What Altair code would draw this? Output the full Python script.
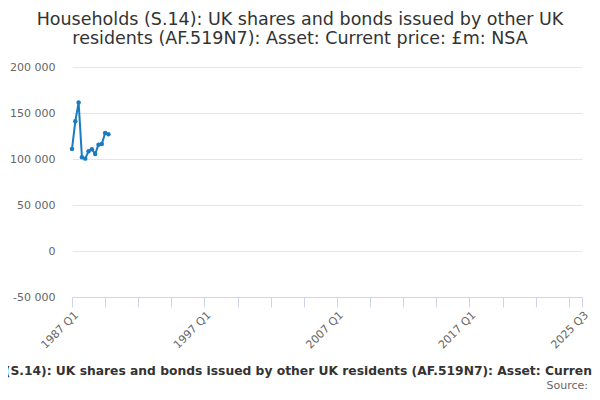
import altair as alt
import pandas as pd

# quarterly values, £m, 1987 Q1 - 1989 Q4
QUARTERS = [
    "1987 Q1", "1987 Q2", "1987 Q3", "1987 Q4",
    "1988 Q1", "1988 Q2", "1988 Q3", "1988 Q4",
    "1989 Q1", "1989 Q2", "1989 Q3", "1989 Q4",
]
VALUES = [
    111000, 141000, 161500, 101800,
    100400, 108500, 110500, 105500,
    115600, 116200, 128200, 126800,
]

# full category axis 1987 Q1 .. 2025 Q3
AXIS_QUARTERS = [f"{y} Q{q}" for y in range(1987, 2026) for q in range(1, 5)][:155]
TICK_QUARTERS = AXIS_QUARTERS[::10] + [AXIS_QUARTERS[-1]]
LABEL_QUARTERS = ["1987 Q1", "1997 Q1", "2007 Q1", "2017 Q1", "2025 Q3"]
Y_TICKS = [-50000, 0, 50000, 100000, 150000, 200000]

TITLE = [
    "Households (S.14): UK shares and bonds issued by other UK",
    "residents (AF.519N7): Asset: Current price: £m: NSA",
]
AXIS_TITLE = ("Households (S.14): UK shares and bonds issued by other UK residents "
              "(AF.519N7): Asset: Current price: £m: NSA")
SOURCE = ["Source:"]

df = pd.DataFrame({"quarter": QUARTERS, "value": VALUES})
src = pd.DataFrame({"label": SOURCE})

FONT = "DejaVu Sans"
label_set = "[" + ",".join(f"'{q}'" for q in LABEL_QUARTERS) + "]"

x_enc = alt.X(
    "quarter:O",
    sort=AXIS_QUARTERS,
    scale=alt.Scale(type="point", domain=AXIS_QUARTERS, padding=0),
    axis=alt.Axis(
        values=TICK_QUARTERS,
        labelExpr=f"indexof({label_set}, datum.value) >= 0 ? datum.value : ''",
        labelAngle=-45,
        labelOverlap=False,
        labelColor="#666666",
        labelFontSize=11,
        labelFont=FONT,
        domainColor="#ccd6eb",
        tickColor="#ccd6eb",
        tickSize=10,
        labelPadding=2,
        grid=False,
        title=AXIS_TITLE,
        titleFont=FONT,
        titleFontSize=12.3,
        titleFontWeight="bold",
        titleColor="#333333",
        titlePadding=14,
        titleX=240,
    ),
)

y_enc = alt.Y(
    "value:Q",
    scale=alt.Scale(domain=[-50000, 200000], nice=False, zero=False),
    axis=alt.Axis(
        values=Y_TICKS,
        labelExpr="(datum.value < 0 ? '-' : '') + replace(format(abs(datum.value), ','), ',', ' ')",
        domain=False,
        ticks=False,
        labelPadding=17,
        labelColor="#666666",
        labelFontSize=11,
        labelFont=FONT,
        gridColor="#e6e6e6",
        title=None,
    ),
)

line = alt.Chart(df).mark_line(
    color="#1b7bc2", strokeWidth=2,
    point=alt.OverlayMarkDef(color="#1b7bc2", size=20, filled=True),
).encode(x=x_enc, y=y_enc)

source = alt.Chart(src).mark_text(
    align="right", baseline="alphabetic",
    font=FONT, fontSize=11, color="#666666",
).encode(text="label:N", x=alt.value(516), y=alt.value(322))

chart = (line + source).properties(
    width=510,
    height=230,
    autosize=alt.AutoSizeParams(type="none"),
    padding={"left": 64, "top": 59, "right": 10, "bottom": 95},
    title=alt.Title(
        TITLE, font=FONT, fontSize=17.5, fontWeight="normal", color="#333333",
        anchor="middle", dx=-27, offset=14, lineHeight=19,
    ),
).configure_view(stroke=None)

chart.save("out.html", embed_options={"renderer": "svg", "actions": False})
